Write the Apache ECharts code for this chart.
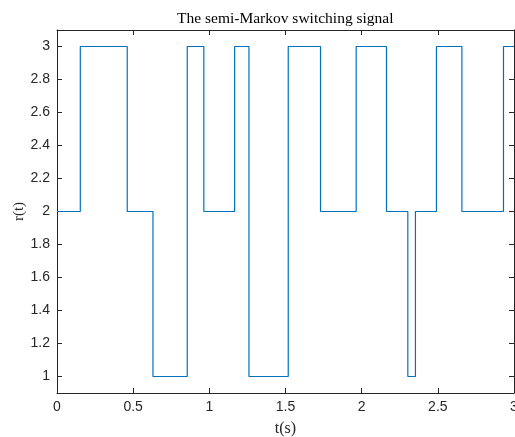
<!DOCTYPE html>
<html>
<head>
<meta charset="utf-8">
<script src="https://cdn.jsdelivr.net/npm/echarts@6/dist/echarts.min.js"></script>
<style>
  html, body { margin: 0; padding: 0; background: #fff; }
  #chart { width: 515px; height: 437px; }
</style>
</head>
<body>
<div id="chart"></div>
<script>
// switching instants (s) and the mode held from each instant on
var switchTimes = [0, 0.153, 0.461, 0.630, 0.855, 0.964, 1.166, 1.260, 1.518, 1.730, 1.964, 2.163, 2.303, 2.353, 2.491, 2.658, 2.931, 3];
var modes       = [2, 3,     2,     1,     3,     2,     3,     1,     3,     2,     3,     2,     1,     2,     3,     2,     3,     3];
var xTicks = [0, 0.5, 1, 1.5, 2, 2.5, 3];
var yTicks = [1, 1.2, 1.4, 1.6, 1.8, 2, 2.2, 2.4, 2.6, 2.8, 3];

var pts = switchTimes.map(function (t, i) { return [t, modes[i]]; });

var axisCol = '#262626';
var sans = 'Liberation Sans';
var serif = 'Liberation Serif';

function xAx(pos, labels) {
  return {
    type: 'value', position: pos, min: 0, max: 3,
    axisLine: { show: true, onZero: false, lineStyle: { color: axisCol, width: 1 } },
    axisTick: { show: true, inside: true, length: 5, lineStyle: { color: axisCol },
      customValues: xTicks },
    axisLabel: { show: labels, color: axisCol, fontFamily: sans, fontSize: 14, margin: 7,
      customValues: xTicks, formatter: function (v) { return String(v); } },
    splitLine: { show: false }
  };
}
function yAx(pos, labels) {
  return {
    type: 'value', position: pos, min: 0.9, max: 3.1,
    axisLine: { show: true, onZero: false, lineStyle: { color: axisCol, width: 1 } },
    axisTick: { show: true, inside: true, length: 5, lineStyle: { color: axisCol },
      customValues: yTicks },
    axisLabel: { show: labels, color: axisCol, fontFamily: sans, fontSize: 14, margin: 7,
      customValues: yTicks,
      formatter: function (v) { return String(Math.round(v * 10) / 10); } },
    splitLine: { show: false }
  };
}

var myChart = echarts.init(document.getElementById('chart'));

var bottomX = xAx('bottom', true);
bottomX.name = 't(s)';
bottomX.nameLocation = 'middle';
bottomX.nameGap = 28;
bottomX.nameMoveOverlap = false;
bottomX.nameTextStyle = { fontFamily: serif, fontSize: 16, color: axisCol };

var leftY = yAx('left', true);
leftY.name = 'r(t)';
leftY.nameLocation = 'middle';
leftY.nameGap = 30;
leftY.nameMoveOverlap = false;
leftY.nameTextStyle = { fontFamily: serif, fontSize: 15, color: axisCol };

var option = {
  animation: false,
  backgroundColor: '#fff',
  title: {
    text: 'The semi-Markov switching signal',
    left: 172, top: 6,
    textStyle: { fontFamily: serif, fontSize: 15.5, fontWeight: 'normal', color: '#000' }
  },
  grid: { left: 57, right: 1, top: 30, bottom: 44, containLabel: false, outerBoundsMode: 'none' },
  xAxis: [bottomX, xAx('top', false)],
  yAxis: [leftY, yAx('right', false)],
  series: [{
    type: 'line',
    step: 'end',
    data: pts,
    xAxisIndex: 0, yAxisIndex: 0,
    showSymbol: false,
    lineStyle: { color: '#0072BD', width: 1.2 }
  }]
};
myChart.setOption(option);
</script>
</body>
</html>
